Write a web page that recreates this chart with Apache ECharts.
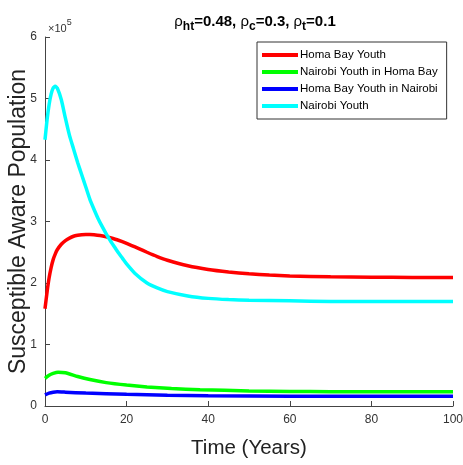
<!DOCTYPE html>
<html><head><meta charset="utf-8">
<script src="https://cdn.jsdelivr.net/npm/echarts@6/dist/echarts.min.js"></script>
<style>html,body{margin:0;padding:0;background:#fff}#c{width:463px;height:465px}</style>
</head><body><div id="c"></div>
<script>
// values in units of 1e5
const tCyan = [0,0.5,1,1.5,2,2.5,3,4,5,6,7,8,9,10,11,12,13,14,15,16,17,18,19,20,22,25,27.5,30,35,40,45,50,60,70,80,90,100];
const nairobiYouth = [4.33,4.65,4.9,5.07,5.17,5.2,5.17,4.98,4.68,4.4,4.18,3.96,3.76,3.56,3.36,3.2,3.05,2.92,2.8,2.69,2.59,2.49,2.4,2.31,2.16,2.0,1.92,1.86,1.79,1.75,1.73,1.72,1.71,1.70,1.70,1.70,1.70];
const tRed = [0,0.5,1,1.5,2,2.5,3,4,5,6,7,8,9,10,11,12,13.5,15,16,18,20,23,25,27.5,30,35,40,45,50,55,60,70,80,90,100];
const homaBayYouth = [1.58,1.85,2.08,2.25,2.38,2.47,2.54,2.63,2.69,2.73,2.76,2.775,2.785,2.79,2.79,2.785,2.772,2.752,2.735,2.695,2.645,2.56,2.5,2.43,2.37,2.28,2.22,2.18,2.15,2.13,2.115,2.10,2.095,2.09,2.09];
const tGreen = [0,1,2,3.2,5,8,11,15,20,25,31,38,50,60,70,80,90,100];
const nairobiInHomaBay = [0.45,0.5,0.53,0.55,0.54,0.48,0.43,0.38,0.34,0.31,0.285,0.265,0.245,0.237,0.233,0.232,0.231,0.23];
const tBlue = [0,1,2,3,5,10,20,30,40,60,80,100];
const homaBayInNairobi = [0.18,0.21,0.225,0.23,0.225,0.21,0.19,0.175,0.165,0.16,0.158,0.158];
const xTicks = [0,20,40,60,80,100];
const yTicks = [0,1,2,3,4,5,6];

const zip = (t, v) => t.map((x, i) => [x, v[i]]);
const chart = echarts.init(document.getElementById('c'));
const font = 'Liberation Sans, Arial, sans-serif';
function ser(name, color, t, v) {
  return {name, type:'line', data: zip(t, v), smooth: 0.2, showSymbol:false, symbol:'none',
    lineStyle:{color, width:3.5}, itemStyle:{color}};
}
chart.setOption({
  animation:false,
  textStyle:{fontFamily:font},
  title:{
    text:'{r|ρ}{s|ht}{n|=0.48, }{r|ρ}{s|c}{n|=0.3, }{r|ρ}{s|t}{n|=0.1}',
    left:250, top:6, textAlign:'center',
    textStyle:{rich:{
      r:{fontSize:15, fontWeight:'normal', color:'#000', fontFamily:font},
      n:{fontSize:15, fontWeight:'bold', color:'#000', fontFamily:font},
      s:{fontSize:12, fontWeight:'bold', color:'#000', fontFamily:font, padding:[10,0,0,0]}
    }}
  },
  graphic:[{type:'text', left:48, top:18, style:{
    text:'{a|×10}{b|5}', rich:{a:{fontSize:11,fill:'#333',fontFamily:font,padding:[6,0,0,0]}, b:{fontSize:9,fill:'#333',fontFamily:font,padding:[0,0,6,0]}}
  }}],
  legend:{
    orient:'vertical', left:257, top:42, width:186,
    padding:[7,9,7,5], itemGap:5, itemWidth:36, itemHeight:4,
    borderColor:'#333', borderWidth:1, backgroundColor:'#fff',
    icon:'rect',
    textStyle:{fontSize:11.5, color:'#000', fontFamily:font, padding:[0,0,0,-3]},
    data:['Homa Bay Youth','Nairobi Youth in Homa Bay','Homa Bay Youth in Nairobi','Nairobi Youth']
  },
  grid:{left:45, right:10, top:37, bottom:59, containLabel:false, outerBoundsMode:'none'},
  xAxis:{type:'value', min:xTicks[0], max:xTicks[xTicks.length-1], interval:20,
    name:'Time (Years)', nameLocation:'middle', nameGap:32, nameMoveOverlap:false,
    nameTextStyle:{fontSize:20.5, color:'#222', fontFamily:font},
    axisLine:{lineStyle:{color:'#444'}}, axisTick:{inside:true, length:5, lineStyle:{color:'#444'}},
    axisLabel:{fontSize:12, color:'#333', margin:8}, splitLine:{show:false}},
  yAxis:{type:'value', min:yTicks[0], max:yTicks[yTicks.length-1], interval:1,
    name:'Susceptible Aware Population', nameLocation:'middle', nameGap:15, nameMoveOverlap:false,
    nameTextStyle:{fontSize:23, color:'#222', fontFamily:font},
    axisLine:{show:true, lineStyle:{color:'#444'}}, axisTick:{show:true, inside:true, length:5, lineStyle:{color:'#444'}},
    axisLabel:{fontSize:12, color:'#333', margin:8}, splitLine:{show:false}},
  series:[
    ser('Homa Bay Youth','#ff0000', tRed, homaBayYouth),
    ser('Nairobi Youth in Homa Bay','#00ff00', tGreen, nairobiInHomaBay),
    ser('Homa Bay Youth in Nairobi','#0000ff', tBlue, homaBayInNairobi),
    ser('Nairobi Youth','#00ffff', tCyan, nairobiYouth)
  ]
});
</script></body></html>
